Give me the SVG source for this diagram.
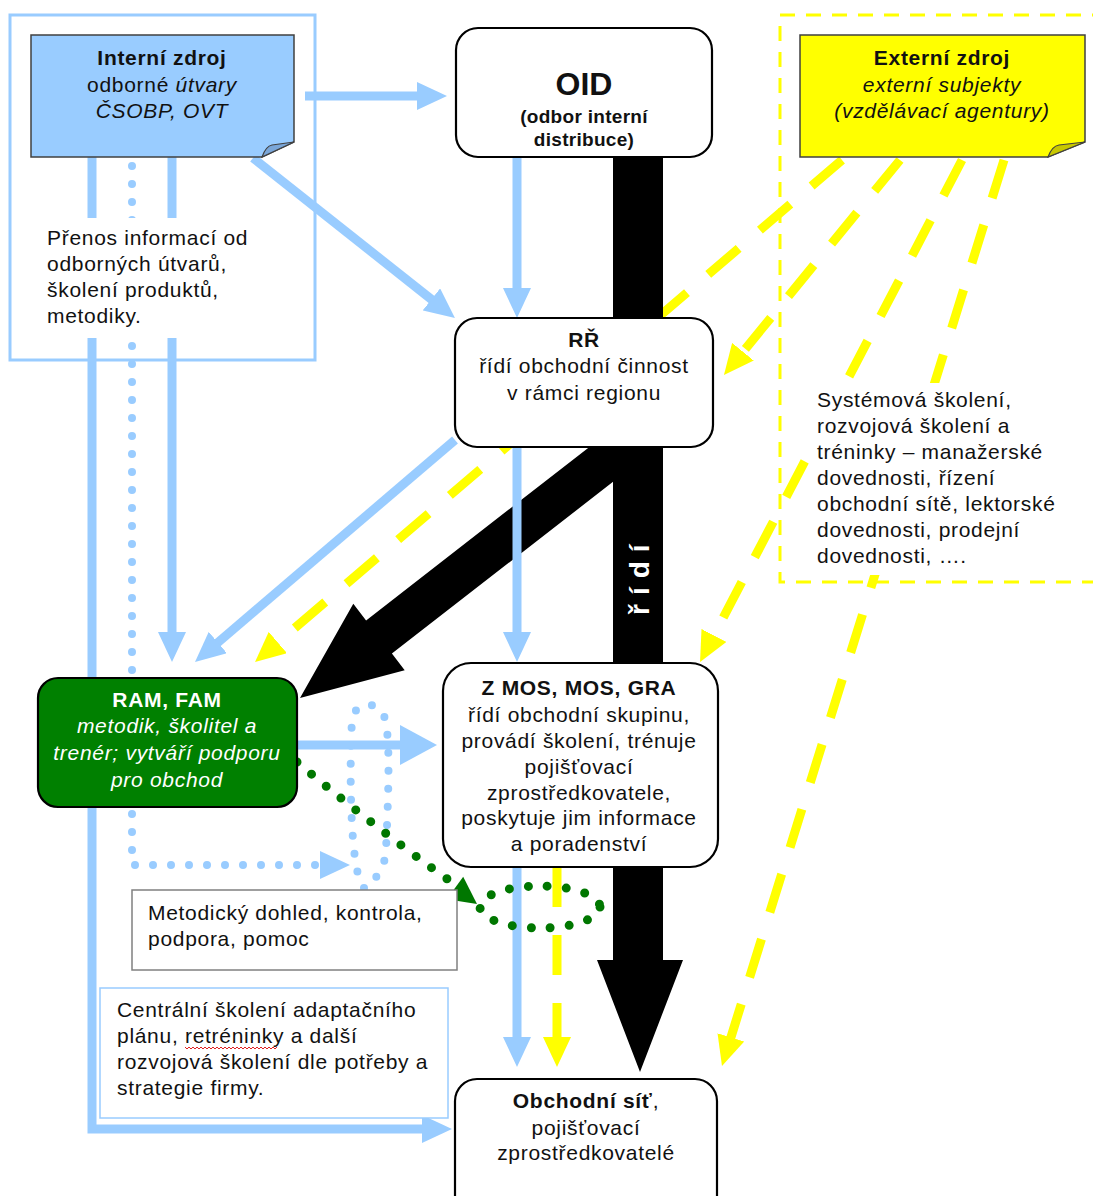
<svg xmlns="http://www.w3.org/2000/svg" width="1093" height="1196" viewBox="0 0 1093 1196">
<defs>
<style>
text{font-family:"Liberation Sans",Arial,sans-serif;font-size:21px;letter-spacing:0.7px;fill:#111}
.c{text-anchor:middle}
.b{font-weight:bold}
.i{font-style:italic}
.box{fill:#fff;stroke:#000;stroke-width:2.2}
.bl{fill:none;stroke:#99ccff;stroke-width:9}
.bd{fill:none;stroke:#99ccff;stroke-width:8;stroke-linecap:round;stroke-dasharray:0 18}
.yl{fill:none;stroke:#ffff00;stroke-width:9;stroke-dasharray:40 28}
.gd{fill:none;stroke:#007700;stroke-width:9;stroke-linecap:round;stroke-dasharray:0 19}
.w{fill:#fff}
</style>
<marker id="ab" markerUnits="userSpaceOnUse" markerWidth="30" markerHeight="28" refX="2" refY="14" orient="auto"><path d="M0,0 L30,14 L0,28 Z" fill="#99ccff"/></marker>
<marker id="ab2" markerUnits="userSpaceOnUse" markerWidth="38" markerHeight="40" refX="2" refY="20" orient="auto"><path d="M0,0 L37,20 L0,40 Z" fill="#99ccff"/></marker>
<marker id="ay" markerUnits="userSpaceOnUse" markerWidth="30" markerHeight="28" refX="2" refY="14" orient="auto"><path d="M0,0 L30,14 L0,28 Z" fill="#ffff00"/></marker>
</defs>

<g id="frames">
<rect x="10" y="15" width="305" height="345" fill="none" stroke="#99ccff" stroke-width="3"/>
<rect x="780" y="15" width="330" height="567" fill="none" stroke="#ffff00" stroke-width="3" stroke-dasharray="15 11"/>
</g>

<g id="connectors">
<!-- yellow dashed -->
<line class="yl" x1="842" y1="160" x2="276.3" y2="643.8" marker-end="url(#ay)"/>
<line class="yl" x1="900" y1="160" x2="741.7" y2="353.3" marker-end="url(#ay)"/>
<line class="yl" x1="962" y1="160" x2="713" y2="637.2" marker-end="url(#ay)"/>
<line class="yl" x1="1004" y1="160" x2="730.3" y2="1039.3" marker-end="url(#ay)"/>
<line class="yl" x1="557" y1="867" x2="557" y2="1039" marker-end="url(#ay)"/>
<!-- black -->
<path d="M613,157 L663,157 L663,960 L683,960 L640,1072 L597,960 L613,960 Z" fill="#000"/>
<polygon points="300,698 353.3,603.8 366.1,620.4 619.7,423.4 645.5,456.6 391.9,653.6 404.7,670.2" fill="#000"/>
<text transform="translate(649,615) rotate(-90)" class="b" style="fill:#fff;font-size:28px;letter-spacing:9px">řídí</text>
<!-- blue -->
<line class="bl" x1="305" y1="96" x2="419" y2="96" marker-end="url(#ab)"/>
<line class="bl" x1="253" y1="158" x2="433" y2="300.6" marker-end="url(#ab)"/>
<line class="bl" x1="517" y1="157" x2="517" y2="290" marker-end="url(#ab)"/>
<path class="bl" d="M92,157 L92,1129 L424,1129" marker-end="url(#ab)"/>
<line class="bl" x1="172" y1="157" x2="172" y2="634" marker-end="url(#ab)"/>
<path class="bd" d="M132,166 L132,865 L322,865" marker-end="url(#ab)"/>
<line class="bl" x1="455" y1="440" x2="216.3" y2="643.8" marker-end="url(#ab)"/>
<line class="bl" x1="517" y1="447" x2="517" y2="634" marker-end="url(#ab)"/>
<line class="bl" x1="297" y1="745" x2="402" y2="745" stroke-width="14" marker-end="url(#ab2)"/>
<line class="bl" x1="517" y1="867" x2="517" y2="1039" marker-end="url(#ab)"/>
<path class="bd" d="M364,888 C348,872 350,745 352,722 C354,702 372,700 382,712 C392,725 388,800 386,850 C385,868 376,880 364,888"/>
<!-- green dotted -->
<path class="gd" d="M297,762 C330,790 395,842 450,881"/>
<polygon points="477,904 446.8,899.3 463.2,876.7" fill="#007700"/>
<ellipse class="gd" cx="540" cy="907" rx="60" ry="21"/>
</g>

<g id="labels">
<g id="prenos">
<rect x="40" y="218" width="220" height="120" class="w"/>
<text x="47" y="245">Přenos informací od</text>
<text x="47" y="271">odborných útvarů,</text>
<text x="47" y="297">školení produktů,</text>
<text x="47" y="323">metodiky.</text>
</g>
<g id="systemova">
<rect x="810" y="383" width="260" height="192" class="w"/>
<text x="817" y="407">Systémová školení,</text>
<text x="817" y="433">rozvojová školení a</text>
<text x="817" y="459">tréninky – manažerské</text>
<text x="817" y="485">dovednosti, řízení</text>
<text x="817" y="511">obchodní sítě, lektorské</text>
<text x="817" y="537">dovednosti, prodejní</text>
<text x="817" y="563">dovednosti, ….</text>
</g>
<g id="metodicky">
<rect x="132" y="890" width="325" height="80" fill="#fff" stroke="#808080" stroke-width="1.5"/>
<text x="148" y="920">Metodický dohled, kontrola,</text>
<text x="148" y="946">podpora, pomoc</text>
</g>
<g id="centralni">
<rect x="100" y="988" width="348" height="130" fill="#fff" stroke="#99ccff" stroke-width="1.5"/>
<text x="117" y="1017">Centrální školení adaptačního</text>
<text x="117" y="1043">plánu, retréninky a další</text>
<path d="M185,1047 l2,2 l2,-2 l2,2 l2,-2 l2,2 l2,-2 l2,2 l2,-2 l2,2 l2,-2 l2,2 l2,-2 l2,2 l2,-2 l2,2 l2,-2 l2,2 l2,-2 l2,2 l2,-2 l2,2 l2,-2 l2,2 l2,-2 l2,2 l2,-2 l2,2 l2,-2 l2,2 l2,-2 l2,2 l2,-2 l2,2 l2,-2 l2,2 l2,-2 l2,2 l2,-2 l2,2 l2,-2 l2,2 l2,-2 l2,2 l2,-2 l2,2 l2,-2" fill="none" stroke="#e02020" stroke-width="1"/>
<text x="117" y="1069">rozvojová školení dle potřeby a</text>
<text x="117" y="1095">strategie firmy.</text>
</g>
</g>

<g id="interni">
<path d="M31,35 L294,35 L294,142 L262,157 L31,157 Z" fill="#99ccff" stroke="#404040" stroke-width="1.5"/>
<path d="M262,157 Q266,146 272,145 L294,142 Z" fill="#7aa6d8" stroke="#404040" stroke-width="1.2"/>
<text x="162" y="65" class="c b">Interní zdroj</text>
<text x="162" y="92" class="c">odborné <tspan class="i">útvary</tspan></text>
<text x="162" y="118" class="c i">ČSOBP, OVT</text>
</g>

<g id="externi">
<path d="M800,35 L1085,35 L1085,142 L1048,157 L800,157 Z" fill="#ffff00" stroke="#404040" stroke-width="1.5"/>
<path d="M1048,157 Q1052,146 1059,145 L1085,142 Z" fill="#c8c800" stroke="#404040" stroke-width="1.2"/>
<text x="942" y="65" class="c b">Externí zdroj</text>
<text x="942" y="92" class="c i">externí subjekty</text>
<text x="942" y="118" class="c i">(vzdělávací agentury)</text>
</g>

<g id="oid">
<rect x="456" y="28" width="256" height="129" rx="22" class="box"/>
<text x="584" y="95" class="c b" style="font-size:32px;letter-spacing:0">OID</text>
<text x="584" y="123" class="c b" style="font-size:19px;letter-spacing:0.3px">(odbor interní</text>
<text x="584" y="146" class="c b" style="font-size:19px;letter-spacing:0.3px">distribuce)</text>
</g>

<g id="rr">
<rect x="455" y="318" width="258" height="129" rx="22" class="box"/>
<text x="584" y="347" class="c b">RŘ</text>
<text x="584" y="373" class="c">řídí obchodní činnost</text>
<text x="584" y="400" class="c">v rámci regionu</text>
</g>

<g id="ram">
<rect x="38" y="678" width="259" height="129" rx="20" fill="#008000" stroke="#000" stroke-width="2.2"/>
<text x="167" y="707" class="c b" style="fill:#fff">RAM, FAM</text>
<text x="167" y="733" class="c i" style="fill:#fff">metodik, školitel a</text>
<text x="167" y="760" class="c i" style="fill:#fff">trenér; vytváří podporu</text>
<text x="167" y="787" class="c i" style="fill:#fff">pro obchod</text>
</g>

<g id="zmos">
<rect x="443" y="663" width="275" height="204" rx="28" class="box"/>
<text x="579" y="695" class="c b">Z MOS, MOS, GRA</text>
<text x="579" y="722" class="c">řídí obchodní skupinu,</text>
<text x="579" y="748" class="c">provádí školení, trénuje</text>
<text x="579" y="774" class="c">pojišťovací</text>
<text x="579" y="800" class="c">zprostředkovatele,</text>
<text x="579" y="825" class="c">poskytuje jim informace</text>
<text x="579" y="851" class="c">a poradenství</text>
</g>

<g id="obchodni">
<rect x="455" y="1079" width="262" height="140" rx="22" class="box"/>
<text x="586" y="1108" class="c"><tspan class="b">Obchodní síť</tspan>,</text>
<text x="586" y="1135" class="c">pojišťovací</text>
<text x="586" y="1160" class="c">zprostředkovatelé</text>
</g>
</svg>
